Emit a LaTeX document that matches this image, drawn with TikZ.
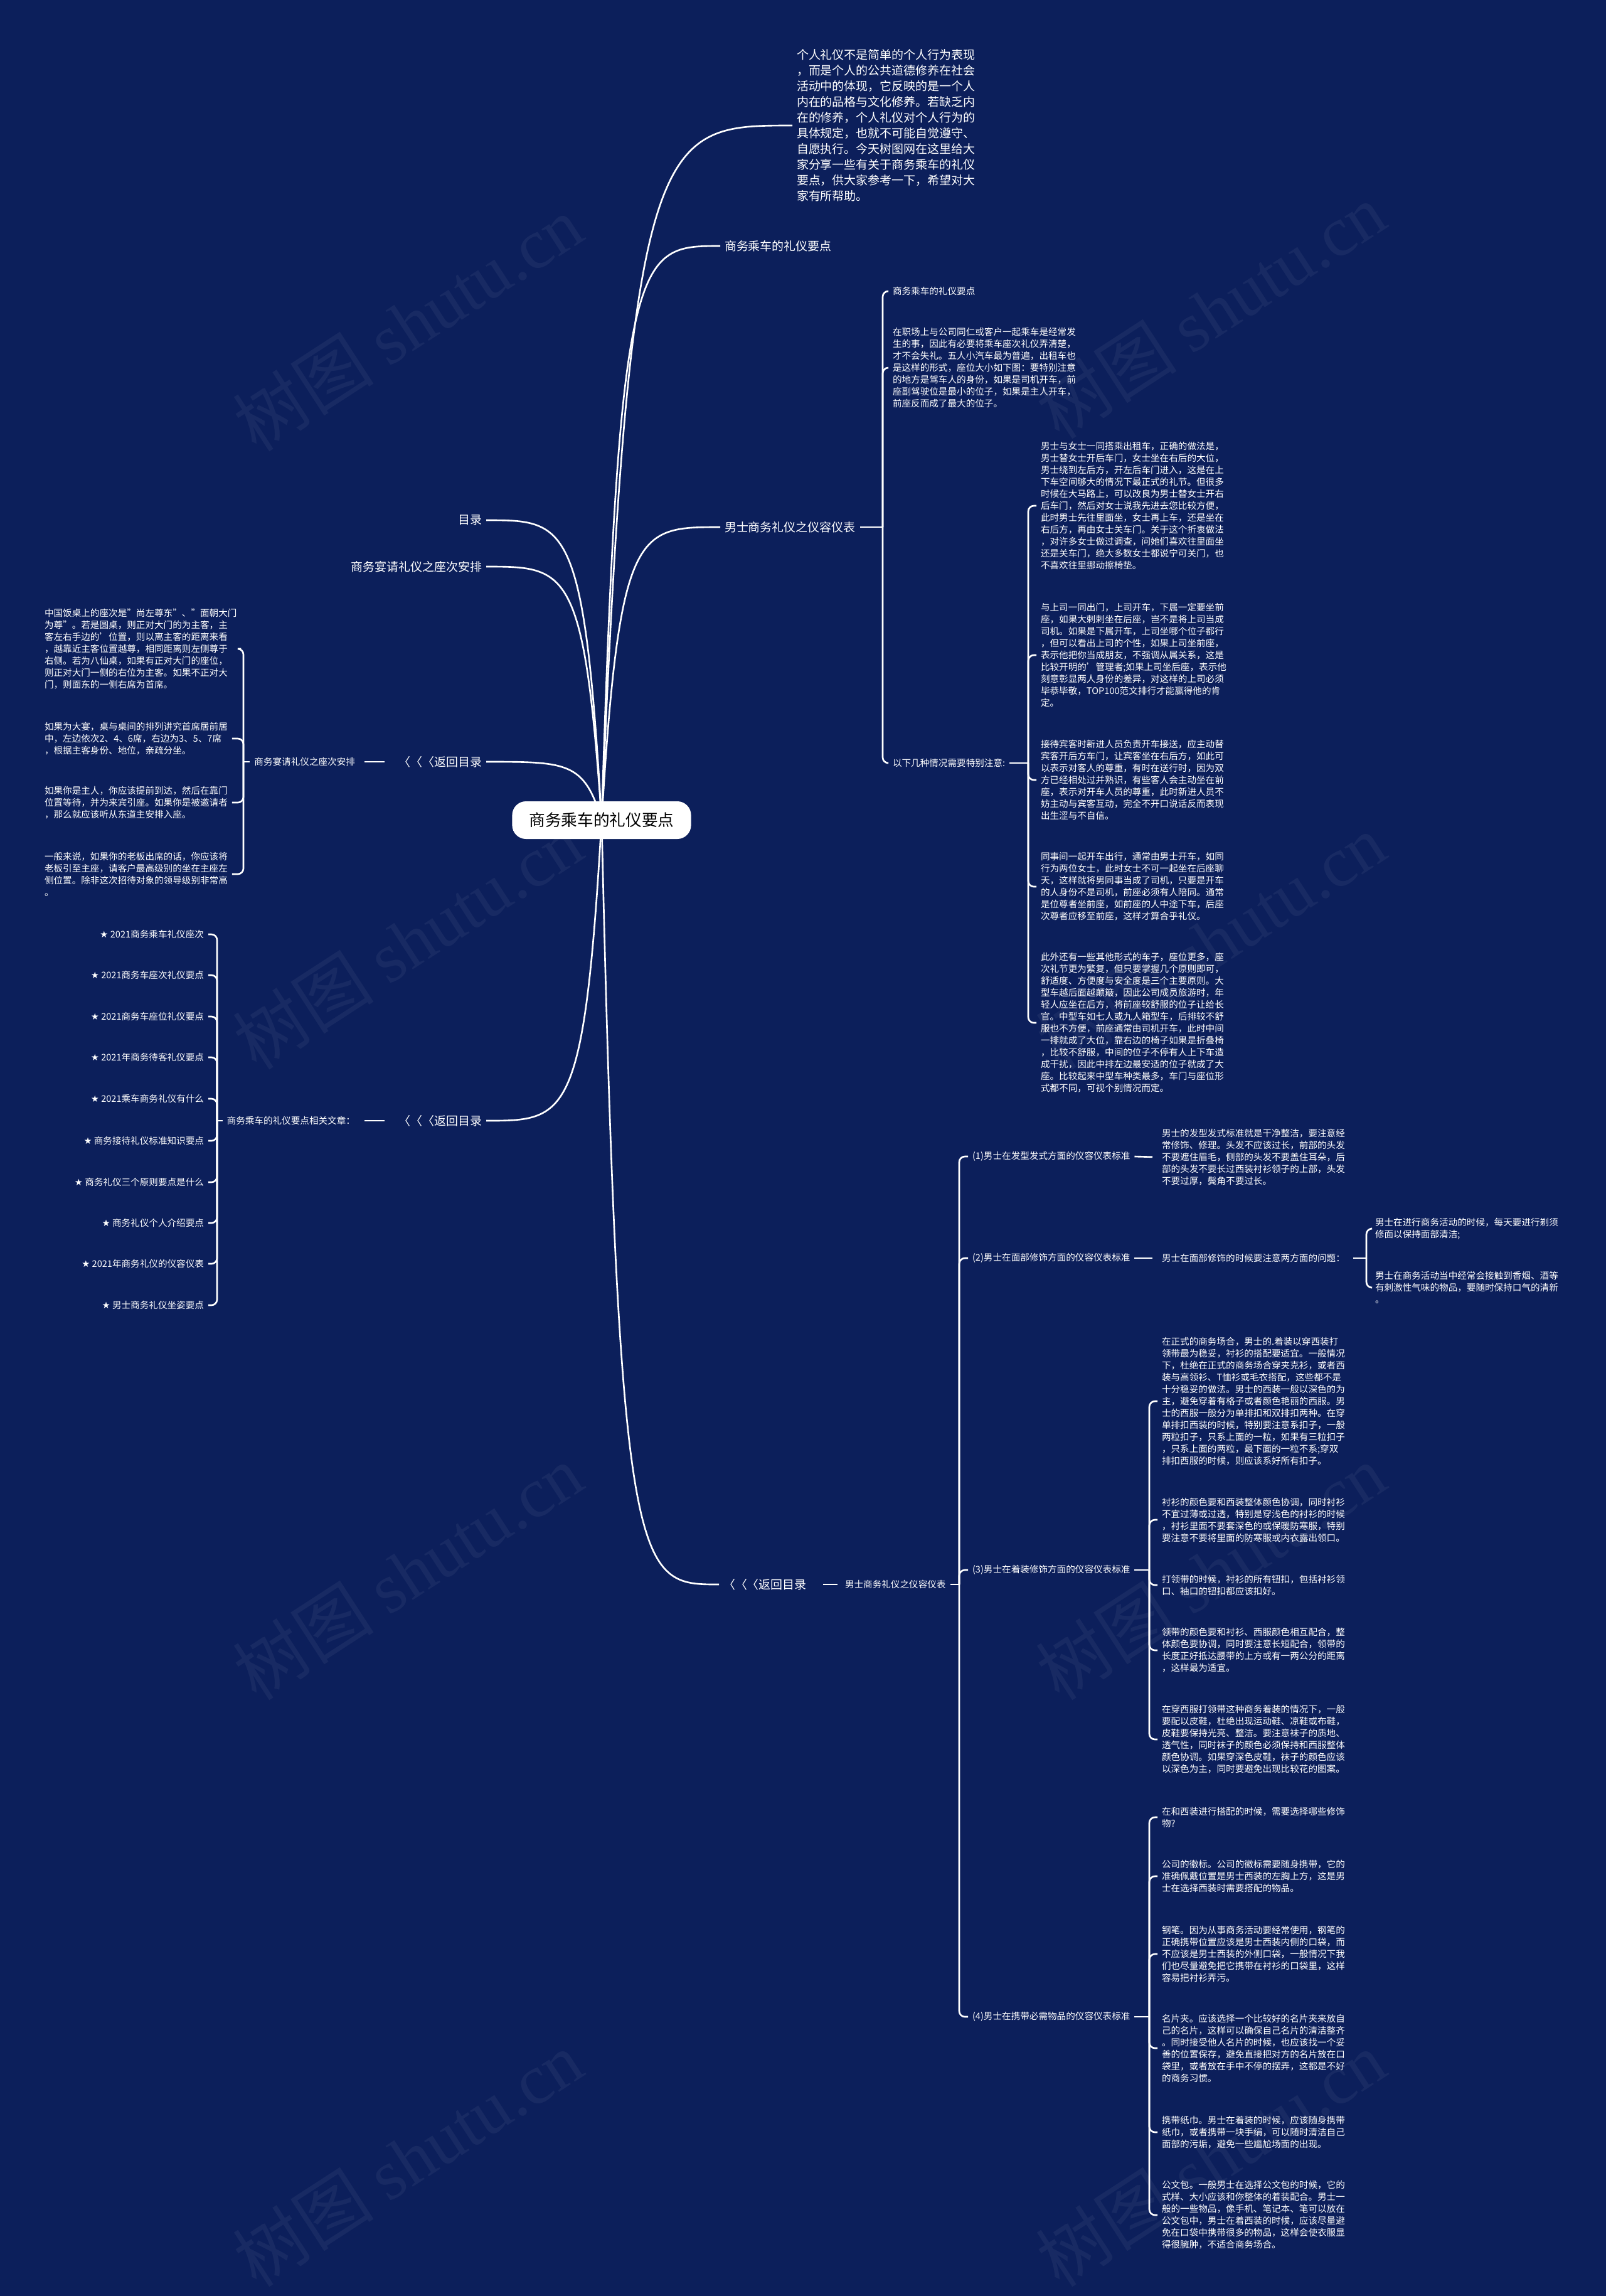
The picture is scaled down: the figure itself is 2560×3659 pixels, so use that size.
\documentclass[tikz,border=0pt]{standalone}
\usepackage{fontspec}
\setmainfont{Noto Sans CJK SC}
\newfontfamily\starfont{DejaVu Sans}
\newfontfamily\wmlat{Liberation Serif}
\usetikzlibrary{calc}
\definecolor{bgnavy}{HTML}{0C1F5B}
\pgfdeclarelayer{back}
\pgfdeclarelayer{links}
\pgfsetlayers{back,links,main}
\newcommand\fbig{\fontsize{5.4pt}{7.1pt}\selectfont}
\newcommand\fsml{\fontsize{4.15pt}{5.4pt}\selectfont}
\newcommand\froot{\fontsize{7.3pt}{9pt}\selectfont}
\newcommand\wmtext{树图 {\wmlat shutu.cn}}
\newcommand\rtcurve[1]{\draw[cv] let \p1=(root.center), \p2=(#1) in (\p1) .. controls ({\x1+0.15*(\x2-\x1)},\y2) and ({\x1+0.3*(\x2-\x1)},\y2) .. (\p2);}
\newcommand\stt{{\starfont ★} }
\begin{document}
\begin{tikzpicture}[x=0.01cm,y=-0.01cm,
  txt/.style={inner sep=0pt, outer xsep=0.07cm, outer ysep=0pt, text=white, align=left},
  big/.style={txt, font=\fbig},
  sml/.style={txt, font=\fsml},
  ln/.style={draw=white, line width=0.75pt},
  br/.style={ln, rounded corners=0.09cm},
  cv/.style={ln},
  rootbox/.style={fill=white, rounded corners=0.22cm, minimum width=2.85cm, minimum height=0.6cm, inner sep=0pt, text=black, font=\froot},
  wm/.style={text=white, text opacity=0.05, rotate=33, font=\fontsize{32pt}{32pt}\selectfont}
]
\useasboundingbox (0,0) rectangle (2560,3659);
\begin{pgfonlayer}{back}
\fill[bgnavy] (0,0) rectangle (2560,3659);
\node[wm] (wm1) at (650,515) {\wmtext};
\node[wm] (wm2) at (1930,495) {\wmtext};
\node[wm] (wm3) at (650,1500) {\wmtext};
\node[wm] (wm4) at (1930,1500) {\wmtext};
\node[wm] (wm5) at (650,2505) {\wmtext};
\node[wm] (wm6) at (1930,2505) {\wmtext};
\node[wm] (wm7) at (650,3440) {\wmtext};
\node[wm] (wm8) at (1930,3440) {\wmtext};
\end{pgfonlayer}

% root
\node[rootbox] (root) at (959,1307) {商务乘车的礼仪要点};

% ---------- right upper ----------
\node[big, anchor=west] (intro) at (1263,200) {个人礼仪不是简单的个人行为表现\\，而是个人的公共道德修养在社会\\活动中的体现，它反映的是一个人\\内在的品格与文化修养。若缺乏内\\在的修养，个人礼仪对个人行为的\\具体规定，也就不可能自觉遵守、\\自愿执行。今天树图网在这里给大\\家分享一些有关于商务乘车的礼仪\\要点，供大家参考一下，希望对大\\家有所帮助。};
\node[big, anchor=west] (L1a) at (1148,392) {商务乘车的礼仪要点};
\node[big, anchor=west] (L1b) at (1148,840) {男士商务礼仪之仪容仪表};

\node[sml, anchor=west] (c1) at (1416,464) {商务乘车的礼仪要点};
\node[sml, anchor=west] (c2) at (1416,586) {在职场上与公司同仁或客户一起乘车是经常发\\生的事，因此有必要将乘车座次礼仪弄清楚，\\才不会失礼。五人小汽车最为普遍，出租车也\\是这样的形式，座位大小如下图：要特别注意\\的地方是驾车人的身份，如果是司机开车，前\\座副驾驶位是最小的位子，如果是主人开车，\\前座反而成了最大的位子。};
\node[sml, anchor=west] (c3) at (1416,1216) {以下几种情况需要特别注意:};

\node[sml, anchor=west] (d1) at (1652,806) {男士与女士一同搭乘出租车，正确的做法是，\\男士替女士开后车门，女士坐在右后的大位，\\男士绕到左后方，开左后车门进入，这是在上\\下车空间够大的情况下最正式的礼节。但很多\\时候在大马路上，可以改良为男士替女士开右\\后车门，然后对女士说我先进去您比较方便，\\此时男士先往里面坐，女士再上车，还是坐在\\右后方，再由女士关车门。关于这个折衷做法\\，对许多女士做过调查，问她们喜欢往里面坐\\还是关车门，绝大多数女士都说宁可关门，也\\不喜欢往里挪动擦椅垫。};
\node[sml, anchor=west] (d2) at (1652,1044) {与上司一同出门，上司开车，下属一定要坐前\\座，如果大剌剌坐在后座，岂不是将上司当成\\司机。如果是下属开车，上司坐哪个位子都行\\，但可以看出上司的个性，如果上司坐前座，\\表示他把你当成朋友，不强调从属关系，这是\\比较开明的'管理者;如果上司坐后座，表示他\\刻意彰显两人身份的差异，对这样的上司必须\\毕恭毕敬，TOP100范文排行才能赢得他的肯\\定。};
\node[sml, anchor=west] (d3) at (1652,1243) {接待宾客时新进人员负责开车接送，应主动替\\宾客开后方车门，让宾客坐在右后方，如此可\\以表示对客人的尊重，有时在送行时，因为双\\方已经相处过并熟识，有些客人会主动坐在前\\座，表示对开车人员的尊重，此时新进人员不\\妨主动与宾客互动，完全不开口说话反而表现\\出生涩与不自信。};
\node[sml, anchor=west] (d4) at (1652,1413) {同事间一起开车出行，通常由男士开车，如同\\行为两位女士，此时女士不可一起坐在后座聊\\天，这样就将男同事当成了司机，只要是开车\\的人身份不是司机，前座必须有人陪同。通常\\是位尊者坐前座，如前座的人中途下车，后座\\次尊者应移至前座，这样才算合乎礼仪。};
\node[sml, anchor=west] (d5) at (1652,1630) {此外还有一些其他形式的车子，座位更多，座\\次礼节更为繁复，但只要掌握几个原则即可，\\舒适度、方便度与安全度是三个主要原则。大\\型车越后面越颠簸，因此公司成员旅游时，年\\轻人应坐在后方，将前座较舒服的位子让给长\\官。中型车如七人或九人箱型车，后排较不舒\\服也不方便，前座通常由司机开车，此时中间\\一排就成了大位，靠右边的椅子如果是折叠椅\\，比较不舒服，中间的位子不停有人上下车造\\成干扰，因此中排左边最安适的位子就成了大\\座。比较起来中型车种类最多，车门与座位形\\式都不同，可视个别情况而定。};

% ---------- left ----------
\node[big, anchor=east] (mulu) at (775,829) {目录};
\node[big, anchor=east] (yanq) at (775,903) {商务宴请礼仪之座次安排};
\node[big, anchor=east] (R1) at (775,1214) {〈〈〈返回目录};
\node[sml, anchor=east] (S1) at (573,1214) {商务宴请礼仪之座次安排};
\node[sml, anchor=west] (e1) at (64,1034) {中国饭桌上的座次是"尚左尊东"、"面朝大门\\为尊"。若是圆桌，则正对大门的为主客，主\\客左右手边的'位置，则以离主客的距离来看\\，越靠近主客位置越尊，相同距离则左侧尊于\\右侧。若为八仙桌，如果有正对大门的座位，\\则正对大门一侧的右位为主客。如果不正对大\\门，则面东的一侧右席为首席。};
\node[sml, anchor=west] (e2) at (64,1177) {如果为大宴，桌与桌间的排列讲究首席居前居\\中，左边依次2、4、6席，右边为3、5、7席\\，根据主客身份、地位，亲疏分坐。};
\node[sml, anchor=west] (e3) at (64,1279) {如果你是主人，你应该提前到达，然后在靠门\\位置等待，并为来宾引座。如果你是被邀请者\\，那么就应该听从东道主安排入座。};
\node[sml, anchor=west] (e4) at (64,1393) {一般来说，如果你的老板出席的话，你应该将\\老板引至主座，请客户最高级别的坐在主座左\\侧位置。除非这次招待对象的领导级别非常高\\。};

\node[big, anchor=east] (R2) at (775,1786) {〈〈〈返回目录};
\node[sml, anchor=east] (S2) at (573,1786) {商务乘车的礼仪要点相关文章：};
\node[sml, anchor=east] (s1) at (332,1489) {\stt 2021商务乘车礼仪座次};
\node[sml, anchor=east] (s2) at (332,1554) {\stt 2021商务车座次礼仪要点};
\node[sml, anchor=east] (s3) at (332,1620) {\stt 2021商务车座位礼仪要点};
\node[sml, anchor=east] (s4) at (332,1685) {\stt 2021年商务待客礼仪要点};
\node[sml, anchor=east] (s5) at (332,1751) {\stt 2021乘车商务礼仪有什么};
\node[sml, anchor=east] (s6) at (332,1818) {\stt 商务接待礼仪标准知识要点};
\node[sml, anchor=east] (s7) at (332,1884) {\stt 商务礼仪三个原则要点是什么};
\node[sml, anchor=east] (s8) at (332,1949) {\stt 商务礼仪个人介绍要点};
\node[sml, anchor=east] (s9) at (332,2014) {\stt 2021年商务礼仪的仪容仪表};
\node[sml, anchor=east] (s10) at (332,2080) {\stt 男士商务礼仪坐姿要点};

% ---------- right lower ----------
\node[big, anchor=west] (R3) at (1146,2525) {〈〈〈返回目录};
\node[sml, anchor=west] (S3) at (1340,2525) {男士商务礼仪之仪容仪表};
\node[sml, anchor=west] (f1) at (1543,1843) {(1)男士在发型发式方面的仪容仪表标准};
\node[sml, anchor=west] (f2) at (1543,2005) {(2)男士在面部修饰方面的仪容仪表标准};
\node[sml, anchor=west] (f3) at (1543,2502) {(3)男士在着装修饰方面的仪容仪表标准};
\node[sml, anchor=west] (f4) at (1543,3214) {(4)男士在携带必需物品的仪容仪表标准};

\node[sml, anchor=west] (g1) at (1845,1844) {男士的发型发式标准就是干净整洁，要注意经\\常修饰、修理。头发不应该过长，前部的头发\\不要遮住眉毛，侧部的头发不要盖住耳朵，后\\部的头发不要长过西装衬衫领子的上部，头发\\不要过厚，鬓角不要过长。};
\node[sml, anchor=west] (g2) at (1845,2005) {男士在面部修饰的时候要注意两方面的问题：};
\node[sml, anchor=west] (h1) at (2185,1958) {男士在进行商务活动的时候，每天要进行剃须\\修面以保持面部清洁;};
\node[sml, anchor=west] (h2) at (2185,2052) {男士在商务活动当中经常会接触到香烟、酒等\\有刺激性气味的物品，要随时保持口气的清新\\。};

\node[sml, anchor=west] (k1) at (1845,2233) {在正式的商务场合，男士的.着装以穿西装打\\领带最为稳妥，衬衫的搭配要适宜。一般情况\\下，杜绝在正式的商务场合穿夹克衫，或者西\\装与高领衫、T恤衫或毛衣搭配，这些都不是\\十分稳妥的做法。男士的西装一般以深色的为\\主，避免穿着有格子或者颜色艳丽的西服。男\\士的西服一般分为单排扣和双排扣两种。在穿\\单排扣西装的时候，特别要注意系扣子，一般\\两粒扣子，只系上面的一粒，如果有三粒扣子\\，只系上面的两粒，最下面的一粒不系;穿双\\排扣西服的时候，则应该系好所有扣子。};
\node[sml, anchor=west] (k2) at (1845,2422) {衬衫的颜色要和西装整体颜色协调，同时衬衫\\不宜过薄或过透，特别是穿浅色的衬衫的时候\\，衬衫里面不要套深色的或保暖防寒服，特别\\要注意不要将里面的防寒服或内衣露出领口。};
\node[sml, anchor=west] (k3) at (1845,2526) {打领带的时候，衬衫的所有钮扣，包括衬衫领\\口、袖口的钮扣都应该扣好。};
\node[sml, anchor=west] (k4) at (1845,2630) {领带的颜色要和衬衫、西服颜色相互配合，整\\体颜色要协调，同时要注意长短配合，领带的\\长度正好抵达腰带的上方或有一两公分的距离\\，这样最为适宜。};
\node[sml, anchor=west] (k5) at (1845,2772) {在穿西服打领带这种商务着装的情况下，一般\\要配以皮鞋，杜绝出现运动鞋、凉鞋或布鞋，\\皮鞋要保持光亮、整洁。要注意袜子的质地、\\透气性，同时袜子的颜色必须保持和西服整体\\颜色协调。如果穿深色皮鞋，袜子的颜色应该\\以深色为主，同时要避免出现比较花的图案。};

\node[sml, anchor=west] (m1) at (1845,2896) {在和西装进行搭配的时候，需要选择哪些修饰\\物?};
\node[sml, anchor=west] (m2) at (1845,2990) {公司的徽标。公司的徽标需要随身携带，它的\\准确佩戴位置是男士西装的左胸上方，这是男\\士在选择西装时需要搭配的物品。};
\node[sml, anchor=west] (m3) at (1845,3114) {钢笔。因为从事商务活动要经常使用，钢笔的\\正确携带位置应该是男士西装内侧的口袋，而\\不应该是男士西装的外侧口袋，一般情况下我\\们也尽量避免把它携带在衬衫的口袋里，这样\\容易把衬衫弄污。};
\node[sml, anchor=west] (m4) at (1845,3264) {名片夹。应该选择一个比较好的名片夹来放自\\己的名片，这样可以确保自己名片的清洁整齐\\。同时接受他人名片的时候，也应该找一个妥\\善的位置保存，避免直接把对方的名片放在口\\袋里，或者放在手中不停的摆弄，这都是不好\\的商务习惯。};
\node[sml, anchor=west] (m5) at (1845,3398) {携带纸巾。男士在着装的时候，应该随身携带\\纸巾，或者携带一块手绢，可以随时清洁自己\\面部的污垢，避免一些尴尬场面的出现。};
\node[sml, anchor=west] (m6) at (1845,3530) {公文包。一般男士在选择公文包的时候，它的\\式样、大小应该和你整体的着装配合。男士一\\般的一些物品，像手机、笔记本、笔可以放在\\公文包中，男士在着西装的时候，应该尽量避\\免在口袋中携带很多的物品，这样会使衣服显\\得很臃肿，不适合商务场合。};

% ---------- connectors ----------
\begin{pgfonlayer}{links}
\rtcurve{intro.west}
\rtcurve{L1a.west}
\rtcurve{L1b.west}
\rtcurve{R3.west}
\rtcurve{mulu.east}
\rtcurve{yanq.east}
\rtcurve{R1.east}
\rtcurve{R2.east}
\end{pgfonlayer}

\coordinate (jA) at (1407,840);
\draw[ln] (L1b.east) -- (jA);
\foreach \q in {c1,c2,c3} \draw[br] (jA) |- (\q.west);

\coordinate (jB) at (1639,1216);
\draw[ln] (c3.east) -- (jB);
\foreach \q in {d1,d2,d3,d4,d5} \draw[br] (jB) |- (\q.west);

\draw[ln, shorten <=0.08cm, shorten >=0.15cm] (S1.east) -- (R1.west);
\coordinate (jC) at (388,1214);
\draw[ln] (S1.west) -- (jC);
\foreach \q in {e1,e2,e3,e4} \draw[br] (jC) |- (\q.east);

\draw[ln, shorten <=0.08cm, shorten >=0.15cm] (S2.east) -- (R2.west);
\coordinate (jD) at (346,1786);
\draw[ln] (S2.west) -- (jD);
\foreach \q in {s1,s2,s3,s4,s5,s6,s7,s8,s9,s10} \draw[br] (jD) |- (\q.east);

\draw[ln, shorten <=0.19cm, shorten >=0.05cm] (R3.east) -- (S3.west);
\coordinate (jE) at (1529,2525);
\draw[ln] (S3.east) -- (jE);
\foreach \q in {f1,f2,f3,f4} \draw[br] (jE) |- (\q.west);

\draw[ln, shorten >=0.08cm] (f1.east) -- (g1.west);
\draw[ln, shorten >=0.08cm] (f2.east) -- (g2.west);
\coordinate (jF) at (2178,2005);
\draw[ln, shorten <=0.06cm] (g2.east) -- (jF);
\foreach \q in {h1,h2} \draw[br] (jF) |- (\q.west);

\coordinate (jG) at (1832,2502);
\draw[ln] (f3.east) -- (jG);
\foreach \q in {k1,k2,k3,k4,k5} \draw[br] (jG) |- (\q.west);

\coordinate (jH) at (1832,3214);
\draw[ln] (f4.east) -- (jH);
\foreach \q in {m1,m2,m3,m4,m5,m6} \draw[br] (jH) |- (\q.west);
\end{tikzpicture}
\end{document}
